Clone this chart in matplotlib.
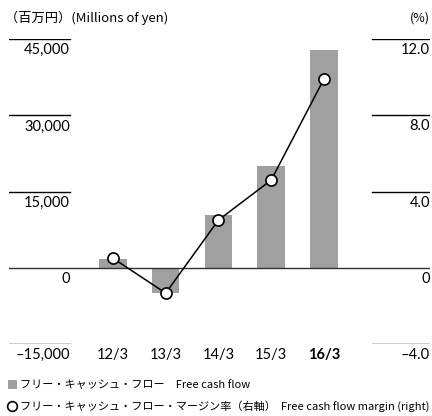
#!/usr/bin/env python3
"""Free cash flow / free cash flow margin chart (FY12/3 - FY16/3)."""

import matplotlib
matplotlib.use("Agg")
import matplotlib.pyplot as plt
from matplotlib.lines import Line2D
from matplotlib.patches import Patch
from matplotlib.font_manager import FontProperties

# data
years = ["12/3", "13/3", "14/3", "15/3", "16/3"]
fcf = [1800, -5000, 10300, 20000, 42800]          # millions of yen
margin = [0.5, -1.33, 2.5, 4.6, 9.9]                # %
left_ticks = [-15000, 0, 15000, 30000, 45000]
left_labels = ["\u201315,000", "0", "15,000", "30,000", "45,000"]
right_ticks = [-4.0, 0.0, 4.0, 8.0, 12.0]
right_labels = ["\u20134.0", "0", "4.0", "8.0", "12.0"]

FAM = ["Lato", "Noto Sans CJK JP", "DejaVu Sans"]
JP = ["Noto Sans CJK JP", "DejaVu Sans"]
plt.rcParams["font.family"] = FAM

BAR = "#a0a0a0"

fig = plt.figure(figsize=(4.32, 4.16), dpi=100)
W, H = 432, 416
ax = fig.add_axes([9 / W, 1 - 344 / H, 421 / W, 305 / H])
ax.set_xlim(-1.97, 6.01)
ax.set_ylim(-15000, 45000)
ax.set_axis_off()

x = list(range(len(years)))
ax.bar(x, fcf, width=0.52, color=BAR, zorder=2)

# horizontal tick rules (left and right) and zero line
lx = (70 - 9) / 421
rx = (372 - 9) / 421
for v in left_ticks:
    if v == 0:
        ax.axhline(0, color="#333333", lw=1.0, zorder=3)
    else:
        ax.axhline(v, xmin=0, xmax=lx, color="black", lw=1.0)
        ax.axhline(v, xmin=rx, xmax=1, color="black", lw=1.0)

for v, s in zip(left_ticks, left_labels):
    ax.annotate(s, xy=(lx, v), xycoords=("axes fraction", "data"),
                xytext=(0, -3), textcoords="offset points",
                ha="right", va="top", fontsize=10.5)

ax2 = ax.twinx()
ax2.set_ylim(-4, 12)
ax2.set_axis_off()
for v, s in zip(right_ticks, right_labels):
    ax2.annotate(s, xy=(1, v), xycoords=("axes fraction", "data"),
                 xytext=(0, -3), textcoords="offset points",
                 ha="right", va="top", fontsize=10.5)

ax2.plot(x, margin, color="black", lw=1.1, marker="o", markersize=8,
         markerfacecolor="white", markeredgecolor="black",
         markeredgewidth=1.2, zorder=5)

for i, s in enumerate(years):
    ax.annotate(s, xy=(i, -15000), xycoords="data",
                xytext=(0, -3), textcoords="offset points",
                ha="center", va="top", fontsize=10.5,
                fontweight="bold" if s == "16/3" else "normal")

fig.text(5 / W, 1 - 18 / H, "（百万円）(Millions of yen)", fontsize=9.5,
         family=JP, ha="left", va="center")
fig.text(430 / W, 1 - 18 / H, "(%)", fontsize=9, family=JP,
         ha="right", va="center")

handles = [
    Patch(facecolor=BAR, edgecolor="none"),
    Line2D([], [], linestyle="none", marker="o", markersize=7,
           markerfacecolor="white", markeredgecolor="black", markeredgewidth=1.2),
]
labels = [
    "フリー・キャッシュ・フロー\u3000Free cash flow",
    "フリー・キャッシュ・フロー・マージン率（右軸）  Free cash flow margin (right)",
]
fig.legend(handles, labels, loc="upper left", bbox_to_anchor=(8 / W, 1 - 380 / H),
           frameon=False, handlelength=0.8, handleheight=0.8, handletextpad=0.25,
           labelspacing=0.9, borderpad=0, borderaxespad=0,
           prop=FontProperties(family=JP, size=8.0))

fig.savefig("out.png", dpi=100)
